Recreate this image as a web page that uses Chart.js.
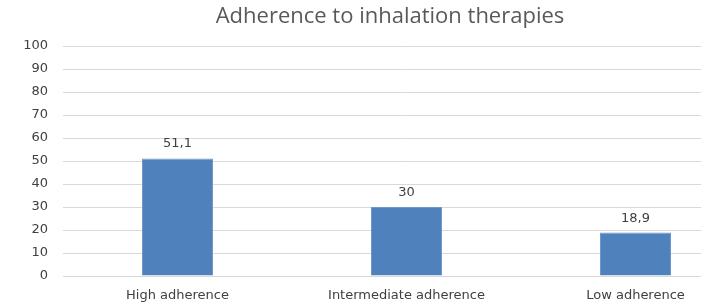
<!DOCTYPE html>
<html>
<head>
<meta charset="utf-8">
<script src="https://cdn.jsdelivr.net/npm/chart.js@4/dist/chart.umd.min.js"></script>
<style>
  body { margin: 0; background: #fff; overflow: hidden; }
</style>
</head>
<body>
<canvas id="adherence-chart" width="752" height="306"></canvas>
<script>
var categories = ['High adherence', 'Intermediate adherence', 'Low adherence'];
var values = [51.1, 30, 18.9];
var valueLabels = ['51,1', '30', '18,9'];
var chartTitle = 'Adherence to inhalation therapies';

// title and value labels drawn by hand to sit where the original has them
var extras = {
  id: 'extras',
  afterDatasetsDraw: function (chart) {
    var ctx = chart.ctx;
    ctx.save();
    ctx.fillStyle = '#595959';
    ctx.font = '22px "Open Sans"';
    ctx.textAlign = 'center';
    ctx.textBaseline = 'middle';
    ctx.fillText(chartTitle, 390, 17);

    ctx.fillStyle = '#404040';
    ctx.font = '13px "DejaVu Sans"';
    ctx.textBaseline = 'alphabetic';
    chart.getDatasetMeta(0).data.forEach(function (bar, i) {
      ctx.fillText(valueLabels[i], bar.x, bar.y - 11);
    });
    ctx.restore();
  }
};

new Chart('adherence-chart', {
  type: 'bar',
  data: {
    labels: categories,
    datasets: [{
      data: values,
      backgroundColor: '#4f81bd',
      borderColor: '#6f98c9',
      borderWidth: 1,
      barPercentage: 0.31,
      categoryPercentage: 1,
    }],
  },
  options: {
    responsive: false,
    animation: false,
    layout: { padding: { top: 46, right: 2, left: 0, bottom: 0 } },
    plugins: {
      legend: { display: false },
      tooltip: { enabled: false },
    },
    scales: {
      x: {
        grid: { display: false, drawTicks: false },
        border: { display: false },
        ticks: { color: '#404040', font: { family: 'DejaVu Sans', size: 13 }, padding: 12 },
        afterFit: function (scale) { scale.height = 30; },
      },
      y: {
        min: 0,
        max: 100,
        ticks: { stepSize: 10, color: '#404040', font: { family: 'DejaVu Sans', size: 13 }, padding: 15 },
        grid: { color: '#d9d9d9', drawTicks: false },
        border: { display: false },
        afterFit: function (scale) { scale.width = 63; },
      },
    },
  },
  plugins: [extras],
});
</script>
</body>
</html>
